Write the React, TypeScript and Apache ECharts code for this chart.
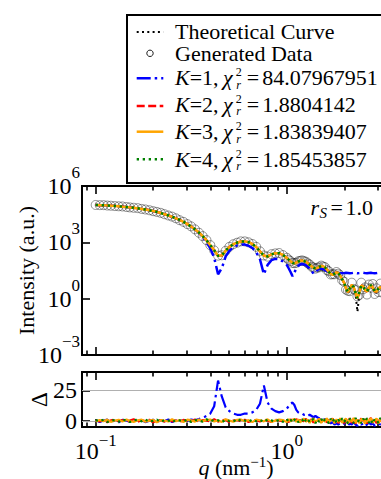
import React, { useEffect, useRef } from 'react';
import * as echarts from 'echarts';

// ---------- data ----------
const qValues = [
  0.1, 0.105, 0.11, 0.115, 0.12, 0.126, 0.132, 0.138, 0.145, 0.151,
  0.158, 0.166, 0.174, 0.182, 0.191, 0.2, 0.209, 0.219, 0.229, 0.24,
  0.251, 0.263, 0.275, 0.288, 0.302, 0.316, 0.331, 0.347, 0.363, 0.38,
  0.398, 0.417, 0.437, 0.457, 0.479, 0.501, 0.525, 0.55, 0.575, 0.603,
  0.631, 0.661, 0.692, 0.724, 0.759, 0.794, 0.832, 0.871, 0.912, 0.955,
  1.0, 1.023, 1.047, 1.072, 1.096, 1.122, 1.148, 1.175, 1.202, 1.23,
  1.259, 1.288, 1.318, 1.349, 1.38, 1.413, 1.445, 1.479, 1.514, 1.549,
  1.585, 1.622, 1.66, 1.698, 1.738, 1.778, 1.82, 1.862, 1.905, 1.95,
  1.995, 2.042, 2.089, 2.138, 2.188, 2.239, 2.291, 2.344, 2.399, 2.455,
  2.512, 2.57, 2.63, 2.692, 2.754, 2.818, 2.884, 2.951, 3.02, 3.09,
  3.162, 3.236, 3.311, 3.388, 3.467,
];

// log10 of intensity
const theoryLogI = [
  4.99, 4.98, 4.97, 4.96, 4.95, 4.94, 4.92, 4.90, 4.88, 4.86,
  4.84, 4.81, 4.78, 4.75, 4.71, 4.67, 4.62, 4.56, 4.50, 4.43,
  4.36, 4.28, 4.19, 4.09, 3.97, 3.84, 3.69, 3.52, 3.33, 3.11,
  2.85, 2.58, 2.26, 2.28, 2.56, 2.75, 2.90, 2.99, 3.04, 3.05,
  3.01, 2.91, 2.75, 2.52, 2.28, 2.24, 2.36, 2.42, 2.42, 2.33,
  2.17, 2.08, 1.99, 1.91, 1.87, 1.92, 1.98, 2.02, 2.03, 2.01,
  1.96, 1.89, 1.81, 1.72, 1.65, 1.61, 1.63, 1.69, 1.74, 1.73,
  1.66, 1.55, 1.43, 1.32, 1.26, 1.33, 1.39, 1.36, 1.22, 1.03,
  0.85, 0.50, 0.25, 0.55, 0.73, 0.60, 0.25, -0.70, 0.30, 0.70,
  0.65, 0.45, 0.30, 0.60, 0.73, 0.60, 0.38, 0.30, 0.55, 0.62,
  0.50, 0.32, 0.38, 0.55, 0.50,
];

const genLogI = [
  4.99, 4.98, 4.98, 4.96, 4.95, 4.93, 4.92, 4.91, 4.88, 4.86,
  4.84, 4.82, 4.78, 4.75, 4.71, 4.66, 4.62, 4.57, 4.50, 4.43,
  4.37, 4.28, 4.18, 4.09, 3.97, 3.85, 3.69, 3.51, 3.33, 3.12,
  2.85, 2.57, 2.29, 2.31, 2.55, 2.76, 2.90, 2.98, 3.05, 3.05,
  3.00, 2.91, 2.76, 2.52, 2.30, 2.24, 2.37, 2.41, 2.43, 2.32,
  2.18, 2.07, 2.00, 1.90, 1.89, 1.91, 1.99, 2.01, 2.04, 2.00,
  1.97, 1.88, 1.82, 1.70, 1.66, 1.60, 1.65, 1.67, 1.76, 1.71,
  1.68, 1.52, 1.46, 1.29, 1.30, 1.30, 1.42, 1.33, 1.25, 0.98,
  0.90, 0.48, 0.42, 0.40, 0.85, 0.52, 0.45, 0.12, 0.20, 0.85,
  0.50, 0.60, 0.22, 0.75, 0.58, 0.78, 0.25, 0.55, 0.35, 0.80,
  0.32, 0.55, 0.18, 0.72, 0.40,
];

// K=2, K=3, K=4 fits (they coincide in the picture)
const fitLogI = [
  4.99, 4.98, 4.97, 4.96, 4.95, 4.94, 4.92, 4.90, 4.88, 4.86,
  4.84, 4.81, 4.78, 4.75, 4.71, 4.67, 4.62, 4.56, 4.50, 4.43,
  4.36, 4.28, 4.19, 4.09, 3.97, 3.84, 3.69, 3.52, 3.33, 3.11,
  2.85, 2.58, 2.28, 2.30, 2.56, 2.75, 2.90, 2.99, 3.04, 3.05,
  3.01, 2.91, 2.75, 2.52, 2.29, 2.25, 2.36, 2.42, 2.42, 2.33,
  2.17, 2.08, 1.99, 1.91, 1.88, 1.92, 1.98, 2.02, 2.03, 2.01,
  1.96, 1.89, 1.81, 1.72, 1.65, 1.62, 1.63, 1.69, 1.74, 1.73,
  1.66, 1.55, 1.43, 1.32, 1.27, 1.33, 1.39, 1.36, 1.22, 1.03,
  0.85, 0.55, 0.35, 0.55, 0.73, 0.62, 0.30, 0.03, 0.35, 0.70,
  0.65, 0.45, 0.38, 0.60, 0.73, 0.60, 0.40, 0.38, 0.55, 0.62,
  0.50, 0.35, 0.40, 0.55, 0.50,
];

const k1LogI = [
  4.99, 4.98, 4.97, 4.96, 4.95, 4.94, 4.92, 4.90, 4.88, 4.86,
  4.84, 4.81, 4.78, 4.75, 4.71, 4.67, 4.62, 4.56, 4.50, 4.43,
  4.36, 4.28, 4.19, 4.09, 3.97, 3.84, 3.69, 3.50, 3.28, 3.02,
  2.68, 2.18, 1.30, 1.62, 2.25, 2.55, 2.74, 2.84, 2.88, 2.88,
  2.82, 2.70, 2.48, 2.10, 1.30, 1.80, 2.05, 2.12, 2.10, 1.98,
  1.80, 1.62, 1.42, 1.20, 1.40, 1.60, 1.74, 1.82, 1.85, 1.83,
  1.78, 1.70, 1.60, 1.48, 1.33, 1.42, 1.52, 1.58, 1.60, 1.57,
  1.52, 1.46, 1.41, 1.37, 1.35, 1.36, 1.38, 1.37, 1.36, 1.35,
  1.36, 1.38, 1.37, 1.35, 1.36, 1.38, 1.37, 1.35, 1.36, 1.37,
  1.38, 1.36, 1.35, 1.37, 1.38, 1.36, 1.35, 1.36, 1.38, 1.37,
  1.35, 1.36, 1.37, 1.38, 1.36,
];

// normalised residuals
const resK1 = [
  0.5, -0.8, 0.3, 1.0, -0.5, 0.2, -1.2, 0.8, 0.4, -0.6,
  1.1, -0.3, 0.6, -1.0, 0.2, 0.9, -0.7, 0.4, -0.2, 1.2,
  -0.9, 0.3, 0.7, -0.4, 0.1, 1.0, 0.5, 1.5, 2.5, 4,
  6, 12, 33, 20, 11, 8, 6, 5, 5, 6,
  6, 7, 9, 14, 29, 15, 10, 8, 7, 8,
  10, 12, 14, 15, 13, 9, 7, 6, 6, 5,
  5, 4, 5, 4, 3, 4, 3, 2, 3, 1,
  1, 0, -1, -2, -1, -3, -2, -3, -2, -3,
  -2, -3, -4, -2, -3, -1, -3, -4, -2, -3,
  -2, -4, -3, -1, -3, -2, -4, -3, -2, -3,
  -1, -3, -2, -4, -3,
];
const resK2 = [
  0.3, -0.5, 0.8, -1.2, 0.4, 1.0, -0.3, 0.6, -0.9, 0.2,
  1.3, -0.7, 0.5, -0.2, 0.9, -1.1, 0.4, 0.7, -0.6, 1.2,
  -0.4, 0.3, -1.0, 0.8, 0.1, -0.5, 1.1, -0.8, 0.6, 0.2,
  -0.3, 1.4, -0.6, 0.5, 0.9, -1.2, 0.3, 0.7, -0.4, 1.0,
  -0.9, 0.2, 0.6, -0.5, 1.3, 0.1, -0.8, 0.9, 0.4, -0.3,
  0.7, -1.1, 1.2, 0.3, -0.6, 1.5, -0.2, 0.8, -1.3, 0.6,
  1.7, -0.9, 0.4, 1.1, -1.5, 0.9, -0.3, 1.6, -1.0, 0.5,
  1.9, -1.4, 0.8, -0.6, 2.0, -1.2, 1.1, -1.8, 0.7, 1.5,
  -2.0, 1.2, -0.8, 2.2, -1.6, 0.9, -2.3, 1.8, -0.7, 2.1,
  -1.5, 1.3, -2.2, 0.6, 2.4, -1.1, 1.7, -1.9, 1.0, 2.3,
  -1.4, 0.8, -2.1, 1.9, -0.9,
];
const resK3 = [
  -0.4, 0.7, -0.2, 1.1, -0.8, 0.3, 0.9, -0.6, 1.2, -0.1,
  -0.9, 0.5, 1.0, -0.7, 0.2, 0.8, -1.1, 0.6, 0.1, -0.5,
  1.3, -0.3, 0.7, -0.9, 1.0, 0.4, -0.6, 1.2, -0.2, 0.8,
  1.1, -0.5, 0.3, -0.8, 1.4, 0.2, -0.7, 0.9, 1.2, -0.3,
  0.6, -1.0, 1.1, 0.5, -0.4, 1.3, -0.8, 0.2, 1.0, 0.7,
  -1.0, 1.4, -0.5, 0.9, 1.6, -0.8, 1.2, -1.3, 0.6, 1.8,
  -0.7, 1.1, -1.6, 0.8, 2.0, -1.2, 0.5, 1.7, -1.8, 1.0,
  -0.6, 2.1, -1.4, 0.9, 1.5, -2.0, 1.3, -0.9, 2.2, -1.5,
  0.7, 1.9, -2.2, 1.1, -0.5, 2.4, -1.7, 1.0, -2.0, 1.6,
  0.8, -2.3, 1.9, -1.0, 2.2, -1.6, 0.5, 2.0, -2.1, 1.4,
  -0.8, 2.3, -1.3, 1.7, -1.9,
];
const resK4 = [
  0.6, -0.3, 1.0, -0.9, 0.2, 0.7, -0.6, 1.1, 0.3, -1.0,
  0.5, 0.9, -0.4, 1.2, -0.7, 0.1, 1.0, -0.8, 0.6, 0.3,
  -1.2, 0.8, 0.4, -0.5, 1.1, -0.9, 0.7, 0.2, -0.6, 1.3,
  -0.4, 0.9, 0.5, -1.1, 1.0, -0.2, 0.6, -0.9, 1.4, 0.3,
  -0.7, 1.1, -0.3, 0.8, -1.0, 1.2, 0.4, -0.6, 1.0, -0.8,
  1.5, -0.7, 1.0, -1.4, 0.8, 1.9, -1.0, 0.6, 1.3, -1.7,
  0.9, 2.1, -1.2, 0.5, 1.6, -1.9, 1.2, -0.8, 2.0, -1.3,
  1.4, 0.7, -2.1, 1.8, -0.9, 2.3, -1.6, 1.0, -1.2, 2.1,
  -0.7, 1.5, -2.2, 1.7, 0.9, -1.8, 2.4, -1.1, 1.3, -2.0,
  1.9, -0.6, 2.2, -1.5, 1.1, -2.3, 1.6, 0.8, -1.7, 2.5,
  -1.2, 1.4, -2.0, 1.8, -0.9,
];

const legendTexts = ['Theoretical Curve', 'Generated Data'];
const fitK = [1, 2, 3, 4];
const fitChi2 = ['84.07967951', '1.8804142', '1.83839407', '1.85453857'];
const xMajorTicks = [0.1, 1];
const xMinorTicks = [0.09, 0.2, 0.3, 0.4, 0.5, 0.6, 0.7, 0.8, 0.9, 2, 3];
const resTicks = [0, 25];
const rSValue = '1.0';

// ---------- styling ----------
const FONT = 'Liberation Serif';
const F = 22;
const SMALL = 15;
const SCRIPT = 12;
const TICKF = 24;
const SUPF = 17;
const X_MIN = Math.log10(0.0848);
const X_MAX = Math.log10(3.47);
const C_K1 = '#0000ff';
const C_K2 = '#ff0000';
const C_K3 = '#ffa500';
const C_K4 = '#008000';
const DASH_DOT = [14, 4, 2.5, 4];
const DASHED = [8, 3.5];
const DOT_BLACK = [2, 3.3];
const DOT_GREEN = [2.3, 3.7];

const lg = (v: number) => Math.log10(v);
const sup = (e: number) => (e < 0 ? '\u2212' + -e : String(e));

export default function App() {
  const ref = useRef<HTMLDivElement>(null);
  useEffect(() => {
    if (!ref.current) return;
    const chart = echarts.init(ref.current, undefined, { renderer: 'svg' });

    const canvas = document.createElement('canvas');
    const ctx = canvas.getContext('2d')!;
    const mw = (t: string, size: number, italic = false) => {
      ctx.font = `${italic ? 'italic ' : ''}${size}px "${FONT}"`;
      return ctx.measureText(t).width;
    };
    const MID = 0.3375;
    const txt = (text: string, x: number, base: number, size: number, italic = false, align = 'left') => ({
      type: 'text',
      x,
      y: Math.round((base - MID * size) * 10) / 10,
      z: 20,
      style: {
        text,
        fill: '#000',
        fontSize: size,
        fontFamily: FONT,
        fontStyle: italic ? 'italic' : 'normal',
        align,
        verticalAlign: 'middle',
        textAlign: align,
        textVerticalAlign: 'middle',
      },
    });

    const pts = (ys: number[]) => qValues.map((q, i) => [lg(q), ys[i]]);

    const xAx = (gridIndex: number, position: string, ticks: number[], len: number, extra: any = {}) => ({
      type: 'value',
      gridIndex,
      position,
      min: X_MIN,
      max: X_MAX,
      axisLine: { show: true, onZero: false, lineStyle: { color: '#000', width: 2 } },
      axisTick: { show: true, inside: true, length: len, customValues: ticks.map(lg), lineStyle: { color: '#000', width: 1.6 } },
      axisLabel: { show: false },
      splitLine: { show: false },
      ...extra,
    });

    const xLabelRich = {
      b: { fontSize: TICKF, fontFamily: FONT, color: '#000', lineHeight: 38, verticalAlign: 'middle' },
      s: { fontSize: SUPF, fontFamily: FONT, color: '#000', lineHeight: SUPF, verticalAlign: 'top' },
    };
    const yLabelRich = {
      b: { fontSize: TICKF, fontFamily: FONT, color: '#000', lineHeight: 44, verticalAlign: 'middle' },
      s: { fontSize: SUPF, fontFamily: FONT, color: '#000', lineHeight: SUPF, verticalAlign: 'top' },
    };

    const xAxis = [
      xAx(0, 'bottom', xMajorTicks, 8),
      xAx(0, 'bottom', xMinorTicks, 4.5),
      xAx(0, 'top', xMajorTicks, 8),
      xAx(0, 'top', xMinorTicks, 4.5),
      xAx(1, 'bottom', xMajorTicks, 8, {
        axisLabel: {
          show: true,
          customValues: xMajorTicks.map(lg),
          margin: 5,
          formatter: (v: number) => `{b|10}{s|${sup(Math.round(v))}}`,
          rich: xLabelRich,
        },
        name: '{i|q}{n| (nm}{s|\u22121}{n|)}',
        nameLocation: 'middle',
        nameGap: 27,
        nameMoveOverlap: false,
        nameTextStyle: {
          rich: {
            i: { fontSize: F, fontFamily: FONT, fontStyle: 'italic', color: '#000', lineHeight: 27 },
            n: { fontSize: F, fontFamily: FONT, color: '#000', lineHeight: 27 },
            s: { fontSize: SMALL, fontFamily: FONT, color: '#000', lineHeight: SMALL, verticalAlign: 'top' },
          },
        },
      }),
      xAx(1, 'bottom', xMinorTicks, 4.5),
      xAx(1, 'top', xMajorTicks, 8),
      xAx(1, 'top', xMinorTicks, 4.5),
    ];

    const yAx = (gridIndex: number, position: string, extra: any) => ({
      type: 'value',
      gridIndex,
      position,
      axisLine: { show: true, onZero: false, lineStyle: { color: '#000', width: 2 } },
      axisTick: { show: true, inside: true, length: 8, lineStyle: { color: '#000', width: 1.6 } },
      splitLine: { show: false },
      ...extra,
    });

    const yAxis = [
      yAx(0, 'left', {
        min: -3,
        max: 6,
        interval: 3,
        axisLabel: {
          show: true,
          margin: 2,
          formatter: (v: number) => `{b|10}{s|${sup(Math.round(v))}}`,
          rich: yLabelRich,
        },
        name: 'Intensity (a.u.)',
        nameLocation: 'middle',
        nameRotate: 90,
        nameGap: 45,
        nameMoveOverlap: false,
        nameTextStyle: { fontSize: F, fontFamily: FONT, color: '#000' },
      }),
      yAx(0, 'right', { min: -3, max: 6, interval: 3, axisLabel: { show: false } }),
      yAx(1, 'left', {
        min: -5,
        max: 40,
        axisTick: { show: true, inside: true, length: 8, customValues: resTicks, lineStyle: { color: '#000', width: 1.6 } },
        axisLabel: {
          show: true,
          margin: 5,
          customValues: resTicks,
          showMinLabel: true,
          showMaxLabel: true,
          fontSize: TICKF,
          fontFamily: FONT,
          color: '#000',
        },
        name: '\u0394',
        nameLocation: 'middle',
        nameRotate: 90,
        nameGap: 31,
        nameMoveOverlap: false,
        nameTextStyle: { fontSize: 23, fontFamily: FONT, color: '#000' },
      }),
      yAx(1, 'right', {
        min: -5,
        max: 40,
        axisTick: { show: true, inside: true, length: 8, customValues: resTicks, lineStyle: { color: '#000', width: 1.6 } },
        axisLabel: { show: false },
      }),
    ];

    const line = (name: string, ys: number[], color: string, width: number, type: any, xi: number, yi: number, extra: any = {}) => ({
      type: 'line',
      name,
      data: pts(ys),
      xAxisIndex: xi,
      yAxisIndex: yi,
      showSymbol: false,
      symbol: 'none',
      silent: true,
      lineStyle: { color, width, type },
      ...extra,
    });

    const series = [
      {
        type: 'scatter',
        name: 'Generated Data',
        data: pts(genLogI),
        xAxisIndex: 0,
        yAxisIndex: 0,
        symbol: 'circle',
        symbolSize: 9,
        silent: true,
        itemStyle: { color: 'rgba(0,0,0,0)', borderColor: 'rgba(0,0,0,0.65)', borderWidth: 0.8 },
      },
      line('Theoretical Curve', theoryLogI, '#000', 2, DOT_BLACK, 0, 0),
      line('K=1', k1LogI, C_K1, 2.5, DASH_DOT, 0, 0),
      line('K=2', fitLogI, C_K2, 2.3, DASHED, 0, 0),
      line('K=3', fitLogI, C_K3, 2.5, 'solid', 0, 0),
      line('K=4', fitLogI, C_K4, 2.5, DOT_GREEN, 0, 0),
      line('res K=1', resK1, C_K1, 2.2, DASH_DOT, 4, 2, {
        markLine: {
          silent: true,
          z: 1,
          symbol: ['none', 'none'],
          label: { show: false },
          lineStyle: { color: '#b0b0b0', width: 1, type: 'solid' },
          data: resTicks.map((v) => ({ yAxis: v })),
        },
      }),
      line('res K=2', resK2, C_K2, 2.2, DASHED, 4, 2),
      line('res K=3', resK3, C_K3, 2.2, 'solid', 4, 2),
      line('res K=4', resK4, C_K4, 2.2, DOT_GREEN, 4, 2),
    ];

    // ----- legend drawn as graphic -----
    const els: any[] = [];
    els.push({
      type: 'rect',
      z: 19,
      shape: { x: 127, y: 15, width: 290, height: 168 },
      style: { fill: '#fff', stroke: '#000', lineWidth: 2 },
    });
    const sx1 = 136.7;
    const sx2 = 163.3;
    const tx = 175;
    const sampleY = [32, 53.3, 78.3, 106, 131.7, 159.3];
    const baseY = [38.5, 60.7, 85, 111.7, 139.3, 166.7];
    const sampleLine = (y: number, color: string, width: number, dash: any) => ({
      type: 'line',
      z: 20,
      shape: { x1: sx1, y1: y, x2: sx2, y2: y },
      style: { stroke: color, lineWidth: width, lineDash: dash },
    });
    els.push(sampleLine(sampleY[0], '#000', 2, DOT_BLACK));
    els.push(txt(legendTexts[0], tx, baseY[0], F));
    els.push({
      type: 'circle',
      z: 20,
      shape: { cx: (sx1 + sx2) / 2, cy: sampleY[1], r: 3.2 },
      style: { fill: 'none', stroke: '#000', lineWidth: 0.9 },
    });
    els.push(txt(legendTexts[1], tx, baseY[1], F));
    const fitStyles = [
      [C_K1, 2.5, DASH_DOT],
      [C_K2, 2.3, DASHED],
      [C_K3, 2.5, null],
      [C_K4, 2.5, DOT_GREEN],
    ];
    fitK.forEach((k, i) => {
      const b = baseY[i + 2];
      const [c, w, d] = fitStyles[i] as any;
      els.push(sampleLine(sampleY[i + 2], c, w, d));
      let x = tx;
      els.push(txt('K', x, b, F, true));
      x += mw('K', F, true);
      const part = `=${k},`;
      els.push(txt(part, x, b, F));
      x += mw(part, F) + mw(' ', F) - 1;
      els.push(txt('\u03c7', x, b, F, true));
      x += mw('\u03c7', F, true) + 3;
      els.push(txt('2', x, b - 9, SCRIPT));
      els.push(txt('r', x + 0.5, b + 3.5, SCRIPT, true));
      x += Math.max(mw('2', SCRIPT), mw('r', SCRIPT, true)) + 5;
      els.push(txt('=', x, b, F));
      x += mw('=', F) + 3;
      els.push(txt(fitChi2[i], x, b, F));
    });

    // r_S annotation
    const rRight = 373;
    const rBase = 215;
    let rx = rRight - mw(rSValue, F);
    els.push(txt(rSValue, rx, rBase, F));
    rx -= 2.5 + mw('=', F);
    els.push(txt('=', rx, rBase, F));
    rx -= 3.5 + mw('S', SMALL, true);
    els.push(txt('S', rx, rBase + 3, SMALL, true));
    rx -= 0.5 + mw('r', F, true);
    els.push(txt('r', rx, rBase, F, true));

    chart.setOption({
      animation: false,
      backgroundColor: '#ffffff',
      grid: [
        { left: 82, top: 186, width: 308, height: 169, containLabel: false, outerBoundsMode: 'none' },
        { left: 82, top: 372, width: 308, height: 55, containLabel: false, outerBoundsMode: 'none' },
      ],
      xAxis,
      yAxis,
      series,
      graphic: { elements: els },
    } as any);

    return () => chart.dispose();
  }, []);

  return (
    <div
      ref={ref}
      style={{ position: 'absolute', left: 0, top: 0, width: 381, height: 479, overflow: 'hidden', background: '#fff' }}
    />
  );
}
